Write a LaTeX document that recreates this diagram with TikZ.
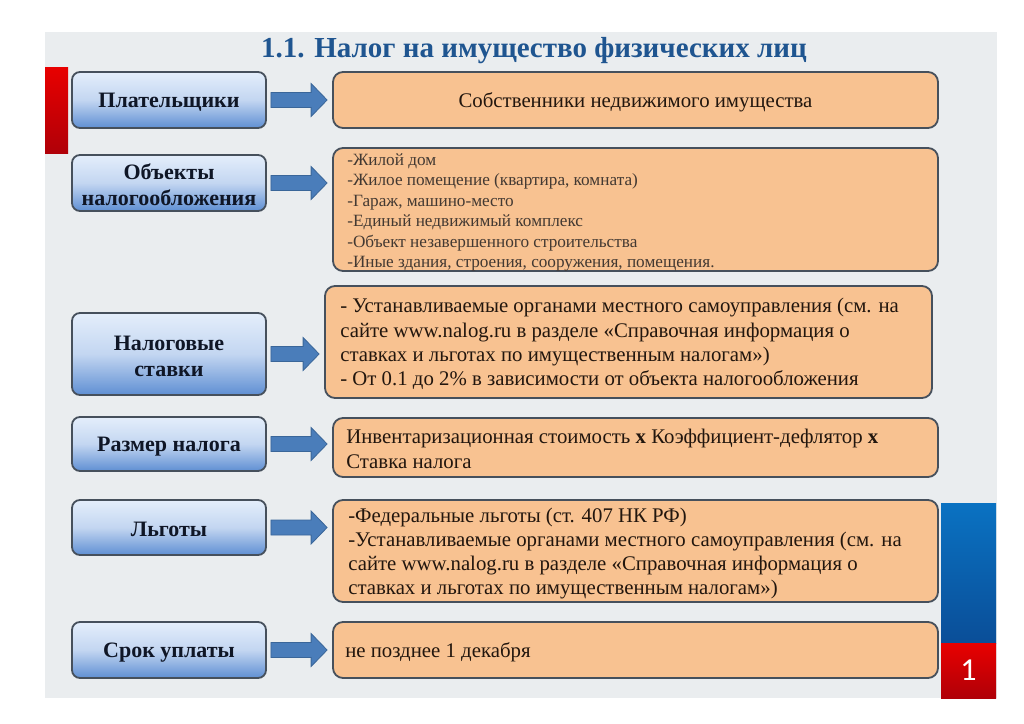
\documentclass[tikz,border=0pt]{standalone}
\usepackage{fontspec}
\setmainfont{Liberation Serif}
\newfontfamily\numfont{Carlito}
\usetikzlibrary{calc}
\definecolor{panel}{HTML}{EAEDEF}
\definecolor{titleblue}{HTML}{1F5590}
\definecolor{orangefill}{HTML}{F8C291}
\definecolor{boxline}{HTML}{46505C}
\definecolor{lbtop}{HTML}{E4EEFB}
\definecolor{lbmid}{HTML}{C3D6F1}
\definecolor{lbbot}{HTML}{5F8FD3}
\definecolor{arrowfill}{HTML}{4A7DBA}
\definecolor{arrowline}{HTML}{3A6699}
\definecolor{redtop}{HTML}{E80000}
\definecolor{redbot}{HTML}{B00008}
\definecolor{bluetop}{HTML}{0A72C2}
\definecolor{bluebot}{HTML}{0A4E98}
\definecolor{textdark}{HTML}{22160E}
\definecolor{lefttext}{HTML}{0F1626}
\tikzset{
  leftbox/.style={draw=boxline, line width=1.8pt, rounded corners=8pt,
    top color=lbtop, bottom color=lbbot, middle color=lbmid,
    minimum width=194pt, align=center, inner sep=0pt, text=lefttext,
    font=\bfseries\fontsize{22}{26}\selectfont},
  lefttxt/.style={align=center, inner sep=0pt, text=lefttext,
    font=\bfseries\fontsize{22}{26}\selectfont},
  rightbox/.style={draw=boxline, line width=1.8pt, rounded corners=10pt,
    fill=orangefill, inner sep=0pt},
  rtext/.style={anchor=west, align=left, inner sep=0pt, text=textdark,
    font=\fontsize{20.8}{24.3}\selectfont},
  smalltext/.style={anchor=west, align=left, inner sep=0pt, text=textdark!85,
    font=\fontsize{17.2}{20.4}\selectfont},
  arrowstyle/.style={fill=arrowfill, draw=arrowline, line width=0.8pt},
}
\newcommand\myarrow[2]{%
  \draw[arrowstyle] ($(#1.east)+(4,-7.5)$) -- ($(#1.east -| #2.west)+(-21,-7.5)$)
    -- ($(#1.east -| #2.west)+(-21,-16.5)$) -- ($(#1.east -| #2.west)+(-5,0)$)
    -- ($(#1.east -| #2.west)+(-21,16.5)$) -- ($(#1.east -| #2.west)+(-21,7.5)$)
    -- ($(#1.east)+(4,7.5)$) -- cycle;}
\begin{document}
\begin{tikzpicture}[x=1pt,y=-1pt]
\useasboundingbox (0,0) rectangle (1024,723);
\fill[white] (0,0) rectangle (1024,723);
\fill[panel] (45,32) rectangle (997,698);
% side bars
\shade[top color=redtop, bottom color=redbot] (45,67) rectangle (68,153);
\shade[top color=bluetop, bottom color=bluebot] (941,503) rectangle (996,643);
\shade[top color=redtop, bottom color=redbot] (941,643) rectangle (996,698);
\node[text=white, font=\numfont\fontsize{32}{32}\selectfont] (pagenum) at (968.5,670) {1};
% title
\node[text=titleblue, font=\bfseries\fontsize{29}{30}\selectfont] (title) at (534,51) {1.1. Налог на имущество физических лиц};
% left boxes
\node[leftbox, minimum height=56pt] (l1) at (169,100) {};
\node[leftbox, minimum height=56pt] (l2) at (169,183) {};
\node[leftbox, minimum height=82pt] (l3) at (169,354) {};
\node[leftbox, minimum height=54pt] (l4) at (169,444) {};
\node[leftbox, minimum height=55pt] (l5) at (169,527.5) {};
\node[leftbox, minimum height=56pt] (l6) at (169,650) {};
\node[lefttxt] (lt1) at ($(l1.center)+(0,2.5)$) {Плательщики};
\node[lefttxt] (lt2) at ($(l2.center)+(0,2)$) {Объекты\\налогообложения};
\node[lefttxt] (lt3) at ($(l3.center)+(0,2)$) {Налоговые\\ставки};
\node[lefttxt] (lt4) at ($(l4.center)+(0,2.5)$) {Размер налога};
\node[lefttxt] (lt5) at ($(l5.center)+(0,2)$) {Льготы};
\node[lefttxt] (lt6) at ($(l6.center)+(0,2.5)$) {Срок уплаты};
% right boxes
\node[rightbox, minimum width=605pt, minimum height=56pt] (r1) at (635.5,100) {};
\node[rightbox, minimum width=605pt, minimum height=123pt] (r2) at (635.5,209.5) {};
\node[rightbox, minimum width=607pt, minimum height=112pt] (r3) at (628.5,342) {};
\node[rightbox, minimum width=605pt, minimum height=59pt] (r4) at (635.5,447.5) {};
\node[rightbox, minimum width=605pt, minimum height=102pt] (r5) at (635.5,551) {};
\node[rightbox, minimum width=605pt, minimum height=56pt] (r6) at (635.5,650) {};
% arrows
\myarrow{l1}{r1}
\myarrow{l2}{r2}
\myarrow{l3}{r3}
\myarrow{l4}{r4}
\myarrow{l5}{r5}
\myarrow{l6}{r6}
% texts
\node[rtext, anchor=center] (t1) at ($(r1.center)+(0,2.5)$) {Собственники недвижимого имущества};
\node[smalltext] (t2) at ($(r2.west)+(15,3)$) {-Жилой дом\\-Жилое помещение (квартира, комната)\\-Гараж, машино-место\\-Единый недвижимый комплекс\\-Объект незавершенного строительства\\-Иные здания, строения, сооружения, помещения.};
\node[rtext] (t3) at ($(r3.west)+(16,2)$) {- Устанавливаемые органами местного самоуправления (см. на\\сайте www.nalog.ru в разделе «Справочная информация о\\ставках и льготах по имущественным налогам»)\\- От 0.1 до 2\% в зависимости от объекта налогообложения};
\node[rtext] (t4) at ($(r4.west)+(14,1.5)$) {Инвентаризационная стоимость \textbf{x} Коэффициент-дефлятор \textbf{x}\\Ставка налога};
\node[rtext] (t5) at ($(r5.west)+(16,2.5)$) {-Федеральные льготы (ст. 407 НК РФ)\\-Устанавливаемые органами местного самоуправления (см. на\\сайте www.nalog.ru в разделе «Справочная информация о\\ставках и льготах по имущественным налогам»)};
\node[rtext] (t6) at ($(r6.west)+(13,2)$) {не позднее 1 декабря};
\end{tikzpicture}
\end{document}
